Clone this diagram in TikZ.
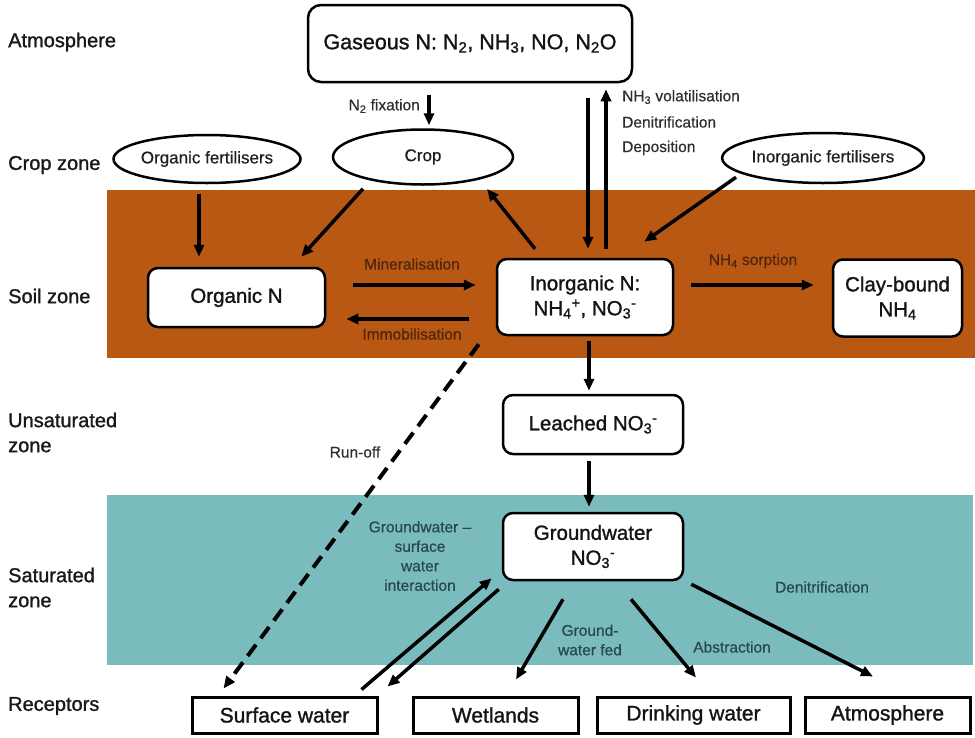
\documentclass[tikz,border=0pt]{standalone}
\usepackage{fontspec}
\setmainfont{Liberation Sans}
\newfontfamily\heavyfont[FakeBold=1.2]{Liberation Sans}
\newfontfamily\medfont[FakeBold=0.5]{Liberation Sans}
\usetikzlibrary{arrows.meta,shapes.geometric,calc}
\definecolor{soil}{RGB}{184,88,18}
\definecolor{water}{RGB}{122,188,190}
\definecolor{soiltext}{RGB}{78,38,14}
\definecolor{watertext}{RGB}{40,72,78}
\definecolor{labeltext}{RGB}{45,45,45}
\begin{document}
\begin{tikzpicture}[x=1pt,y=-1pt,
  box/.style={draw=black, line width=2.5pt, rounded corners=10pt, fill=white, align=center, inner sep=0pt, font=\heavyfont\fontsize{20.5pt}{25pt}\selectfont, text=black!92},
  oval/.style={ellipse, draw=black, line width=2.5pt, fill=white, inner sep=0pt, font=\medfont\fontsize{17pt}{20pt}\selectfont, text=black!88},
  rbox/.style={draw=black, line width=3pt, fill=white, inner sep=0pt, minimum height=36pt, font=\heavyfont\fontsize{21pt}{24pt}\selectfont, text=black!92},
  zone/.style={anchor=west, align=left, inner sep=0pt, font=\heavyfont\fontsize{20pt}{25pt}\selectfont, text=black!90},
  lab/.style={font=\medfont\fontsize{15.5pt}{19.5pt}\selectfont, text=labeltext, align=center, inner sep=0pt},
  arr/.style={line width=3.5pt, -{Triangle[length=12pt,width=10pt]}},
  dasharr/.style={line width=4pt, dash pattern=on 14pt off 8pt, -{Triangle[length=12pt,width=10pt]}}
]
\useasboundingbox (0,0) rectangle (975,737);
\fill[white] (0,0) rectangle (975,737);
% bands
\fill[soil] (107,190) rectangle (975,358);
\fill[water] (107,495) rectangle (973,665);

% zone labels
\node[zone] (zatm) at (8,42) {Atmosphere};
\node[zone] (zcrop) at (8,165) {Crop zone};
\node[zone] (zsoil) at (8,296) {Soil zone};
\node[zone] (zuns) at (8,432.5) {Unsaturated\\zone};
\node[zone] (zsat) at (8,587.5) {Saturated\\zone};
\node[zone] (zrec) at (8,706) {Receptors};

% nodes
\node[box, minimum width=324pt, minimum height=77pt, rounded corners=13pt, font=\heavyfont\fontsize{21.5pt}{25pt}\selectfont] (gas) at (470,43.5) {Gaseous N: N\textsubscript{2}, NH\textsubscript{3}, NO, N\textsubscript{2}O};
\node[oval, minimum width=187pt, minimum height=48pt] (orgfert) at (207,159) {Organic fertilisers};
\node[oval, minimum width=180pt, minimum height=55pt] (crop) at (423,157) {Crop};
\node[oval, minimum width=183pt, minimum height=50pt] (inorgfert) at (823,158) {Inorganic fertilisers};
\node[box, minimum width=177pt, minimum height=59pt] (orgN) at (236.5,297.5) {Organic N};
\node[box, minimum width=176pt, minimum height=76pt] (inorgN) at (585,297) {Inorganic N:\\NH\textsubscript{4}\textsuperscript{+}, NO\textsubscript{3}\textsuperscript{-}};
\node[box, minimum width=129pt, minimum height=77pt] (clay) at (897.5,298) {Clay-bound\\NH\textsubscript{4}};
\node[box, minimum width=180pt, minimum height=59pt] (leached) at (593,424.5) {Leached NO\textsubscript{3}\textsuperscript{-}};
\node[box, minimum width=180pt, minimum height=67pt] (gw) at (593,546.5) {Groundwater\\NO\textsubscript{3}\textsuperscript{-}};
\node[rbox, minimum width=185pt] (sw) at (284.5,715) {Surface water};
\node[rbox, minimum width=165pt] (wet) at (495.5,715) {Wetlands};
\node[rbox, minimum width=193pt] (drink) at (693.5,715) {Drinking water};
\node[rbox, minimum width=165pt] (atm) at (887.5,715) {Atmosphere};

% helper coordinates
\coordinate (vfix) at (429,0);
\coordinate (vdn) at (588,0);
\coordinate (vup) at (606,0);
\coordinate (vof) at (199,0);
\coordinate (vl) at (589,0);
\coordinate (hmin) at (0,285);
\coordinate (himm) at (0,319);

% arrows
\draw[arr, shorten <=12pt, shorten >=3pt] (gas.south -| vfix) -- (crop.north -| vfix);
\draw[arr, shorten <=15pt, shorten >=9pt] (gas.south -| vdn) -- (inorgN.north -| vdn);
\draw[arr, shorten <=9pt, shorten >=6pt] (inorgN.north -| vup) -- (gas.south -| vup);
\draw[arr, shorten <=10pt, shorten >=10pt] (orgfert.south -| vof) -- (orgN.north -| vof);
\draw[arr] ($(crop.south)+(-60,3)$) -- ($(orgN.north east)+(-25,-10)$);
\draw[arr] ($(inorgN.north)+(-50,-9)$) -- ($(crop.south)+(64,3)$);
\draw[arr] ($(inorgfert.south)+(-87,-7)$) -- ($(inorgN.north east)+(-30,-16)$);
\draw[arr, shorten <=27pt, shorten >=20pt] (orgN.east |- hmin) -- (inorgN.west |- hmin);
\draw[arr, shorten <=27pt, shorten >=20pt] (inorgN.west |- himm) -- (orgN.east |- himm);
\draw[arr, shorten <=17pt, shorten >=18pt] (inorgN.east |- hmin) -- (clay.west |- hmin);
\draw[arr, shorten <=5pt, shorten >=3pt] (inorgN.south -| vl) -- (leached.north -| vl);
\draw[arr, shorten <=6pt, shorten >=5pt] (leached.south -| vl) -- (gw.north -| vl);
\draw[dasharr] ($(inorgN.south west)+(-17,8)$) -- ($(sw.north west)+(33,-7)$);
\draw[arr] ($(sw.north east)+(-17,-6)$) -- ($(gw.south west)+(-10,-3)$);
\draw[arr] ($(gw.south west)+(-3,8)$) -- ($(sw.north east)+(9,-9)$);
\draw[arr] ($(gw.south)+(-30,18)$) -- ($(wet.north)+(20.5,-16)$);
\draw[arr] ($(gw.south)+(38,18)$) -- ($(drink.north)+(2.5,-18)$);
\draw[arr] ($(gw.south east)+(7,3)$) -- ($(atm.north)+(-14.5,-19)$);

% labels
\node[lab, anchor=east] (lfix) at (420,106) {N\textsubscript{2} fixation};
\node[lab, anchor=west] (lvol) at (622,97) {NH\textsubscript{3} volatilisation};
\node[lab, anchor=west] (lden) at (622,122) {Denitrification};
\node[lab, anchor=west] (ldep) at (622,148) {Deposition};
\node[lab, text=soiltext] (lmin) at (412,264) {Mineralisation};
\node[lab, text=soiltext] (limm) at (412,334) {Immobilisation};
\node[lab, text=soiltext] (lsorp) at (753,261) {NH\textsubscript{4} sorption};
\node[lab] (lrun) at (355,452) {Run-off};
\node[lab, text=watertext] (lgsw) at (420,556) {Groundwater –\\surface\\water\\interaction};
\node[lab, text=watertext] (lgwf) at (590,640) {Ground-\\water fed};
\node[lab, text=watertext] (labs) at (732,647) {Abstraction};
\node[lab, text=watertext] (lden2) at (822,587) {Denitrification};
\end{tikzpicture}
\end{document}
